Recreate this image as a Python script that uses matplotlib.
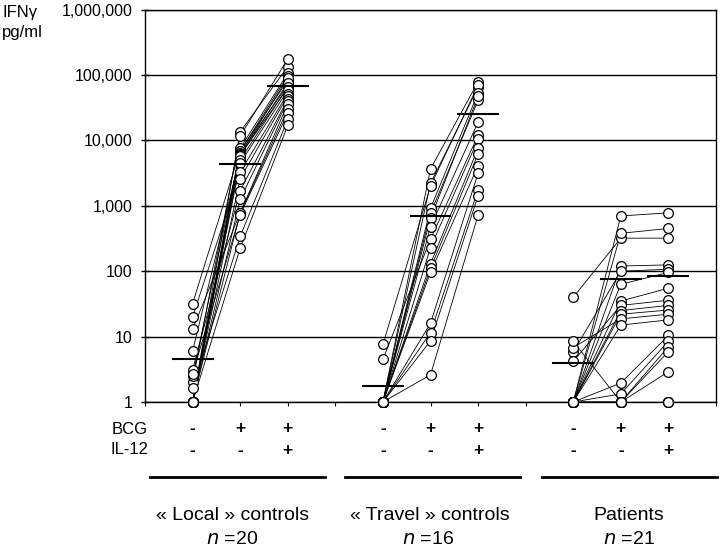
import matplotlib
matplotlib.use('Agg')
import matplotlib.pyplot as plt
from matplotlib.transforms import blended_transform_factory
from matplotlib.lines import Line2D

plt.rcParams['font.family'] = ['Liberation Sans', 'DejaVu Sans']

# IFN-gamma (pg/ml) per subject: unstimulated, BCG, BCG + IL-12
local_neg = [1, 2.0, 1, 32, 1, 2.5, 1, 1, 6, 1, 1, 20, 1, 3.1, 1, 13, 1, 2.7, 1.65, 1]
local_bcg = [13500, 11700, 7600, 7000, 6800, 6500, 6200, 6000, 5800, 5000,
             4500, 3300, 2600, 1700, 1260, 780, 770, 730, 340, 225]
local_il12 = [134000, 175000, 106000, 83000, 98000, 70000, 90000, 63000, 76000, 66000,
              58000, 52000, 48000, 43000, 40000, 36000, 30000, 26000, 21000, 17000]

travel_neg = [1, 1, 7.6, 1, 1, 1, 1, 4.5, 1, 1, 1, 1, 1, 1, 1, 1]
travel_bcg = [3650, 2200, 2000, 915, 770, 645, 480, 310, 230, 130, 110, 96, 16, 11.5, 8.6, 2.6]
travel_il12 = [79000, 65000, 70000, 53000, 41000, 47000, 19000, 12000, 10400, 7600,
               6200, 4100, 3150, 1750, 1420, 720]

patient_neg = [40, 1, 1, 1, 5.8, 1, 1, 4.2, 1, 1, 6.8, 1, 1, 1, 8.5, 1, 1, 1, 1, 1, 1]
patient_bcg = [320, 700, 380, 120, 100, 63, 35, 30, 25, 22, 18.7, 15, 1.95, 1.33,
               1, 1, 1, 1, 1, 1, 1]
patient_il12 = [320, 780, 450, 125, 107, 96, 55, 36, 30, 25.5, 22, 18, 10.4, 8.5,
                7, 5.9, 2.9, 1, 1, 1, 1]

# group bars (horizontal lines)
local_med = [4.5, 4360, 68000]
travel_med = [1.76, 700, 25000]
patient_med = [4.0, 76, 84]

group_names = ['\u00ab Local \u00bb controls', '\u00ab Travel \u00bb controls', 'Patients']
group_n = ['20', '16', '21']
bcg_signs = ['-', '+', '+']
il12_signs = ['-', '-', '+']

groups = [
    (1, local_neg, local_bcg, local_il12, local_med),
    (5, travel_neg, travel_bcg, travel_il12, travel_med),
    (9, patient_neg, patient_bcg, patient_il12, patient_med),
]

fig = plt.figure(figsize=(7.2, 5.49), dpi=100)
ax = fig.add_axes([145 / 720, 1 - 402 / 549, (716 - 145) / 720, (402 - 9.6) / 549])

for x0, neg, bcg, il12, med in groups:
    xs = [x0, x0 + 1, x0 + 2]
    for a, b, c in zip(neg, bcg, il12):
        ax.plot(xs, [a, b, c], color='black', lw=0.6, zorder=2)
    for x, vals in zip(xs, [neg, bcg, il12]):
        ax.plot([x] * len(vals), vals, 'o', ms=7, mfc='white', mec='black',
                mew=0.9, zorder=3, clip_on=False)
    for x, m in zip(xs, med):
        ax.plot([x - 0.42, x + 0.42], [m, m], color='black', lw=1.5, zorder=4)

ax.set_yscale('log')
ax.set_ylim(1, 1e6)
ax.set_xlim(0, 12)
ax.set_yticks([1, 10, 100, 1e3, 1e4, 1e5, 1e6])
ax.set_yticklabels(['1', '10', '100', '1,000', '10,000', '100,000', '1,000,000'])
ax.yaxis.set_minor_locator(matplotlib.ticker.NullLocator())
ax.set_xticks(range(13))
ax.set_xticklabels([])
ax.tick_params(axis='y', direction='inout', length=6, width=1, pad=6, labelsize=11.5)
ax.tick_params(axis='x', direction='out', length=3, width=0.8)
ax.yaxis.grid(True, color='black', lw=1)
ax.set_axisbelow(True)
for s in ax.spines.values():
    s.set_linewidth(1)

fig.text(2 / 720, 1 - 13 / 549, 'IFN\u03b3', fontsize=12, va='center', ha='left')
fig.text(2 / 720, 1 - 33 / 549, 'pg/ml', fontsize=12, va='center', ha='left')

trans = blended_transform_factory(ax.transData, fig.transFigure)
fig.text(148 / 720, 1 - 429 / 549, 'BCG', fontsize=12, ha='right', va='center')
fig.text(148 / 720, 1 - 450 / 549, 'IL-12', fontsize=12, ha='right', va='center')

line_spans = [(150, 325), (345, 520), (542, 717)]
name_x = [233, 430, 629]
n_x = [232, 428, 629]
for (x0, *_), name, n, span, nx, ix in zip(groups, group_names, group_n,
                                           line_spans, name_x, n_x):
    for k in range(3):
        ax.text(x0 + k, 1 - 429 / 549, bcg_signs[k], transform=trans, fontsize=12.5,
                fontweight='bold', ha='center', va='center')
        ax.text(x0 + k, 1 - 450 / 549, il12_signs[k], transform=trans, fontsize=12.5,
                fontweight='bold', ha='center', va='center')
    fig.add_artist(Line2D([span[0] / 720, span[1] / 720], [1 - 477 / 549] * 2,
                          transform=fig.transFigure, color='black', lw=2))
    fig.text(nx / 720, 1 - 515 / 549, name, fontsize=14, ha='center', va='center')
    fig.text(ix / 720, 1 - 539 / 549, '$\\it{n}$ =' + n, fontsize=14,
             ha='center', va='center')

fig.savefig('out.png', dpi=100)
